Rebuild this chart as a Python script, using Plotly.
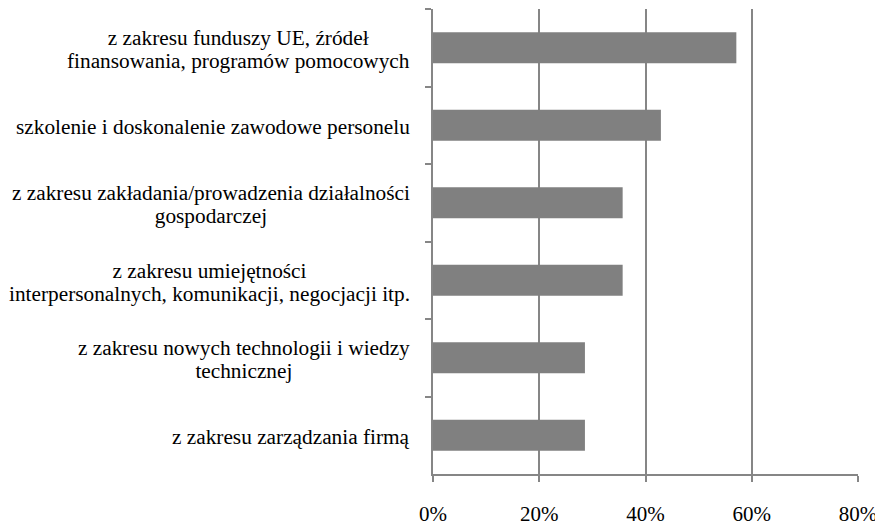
import plotly.graph_objects as go

# Categories (top to bottom) and shares
categories = [
    "z zakresu funduszy UE, źródeł<br>finansowania, programów pomocowych",
    "szkolenie i doskonalenie zawodowe personelu",
    "z zakresu zakładania/prowadzenia działalności<br>gospodarczej",
    "z zakresu umiejętności<br>interpersonalnych, komunikacji, negocjacji itp.",
    "z zakresu nowych technologii i wiedzy<br>technicznej",
    "z zakresu zarządzania firmą",
]
values = [0.571, 0.429, 0.357, 0.357, 0.286, 0.286]
x_ticks = [0, 0.2, 0.4, 0.6, 0.8]
x_tick_labels = ["0%", "20%", "40%", "60%", "80%"]

GREY = "#868686"
FONT = "Liberation Serif, Times New Roman, serif"
LABEL_SIZE = 21.3
LINE_H = 23  # plotly spaces lines at 1.3 x base font size

fig = go.Figure(go.Bar(
    x=values,
    y=categories,
    orientation="h",
    marker=dict(color="#808080", line=dict(width=0)),
    width=0.4,
))

# category labels as annotations: small base size gives tight line spacing,
# inner spans carry the real size; lines centred within a right-aligned block
for cat in categories:
    text = "<br>".join(
        f'<span style="font-size:{LABEL_SIZE}px">{line}</span>'
        for line in cat.split("<br>")
    )
    fig.add_annotation(
        x=0, xref="paper", y=cat, yref="y",
        text=text, showarrow=False,
        xanchor="right", align="center",
        xshift=-21, yshift=-2,
        font=dict(family=FONT, size=LINE_H / 1.3, color="black"),
    )

fig.update_layout(
    template="none",
    width=875, height=519,
    margin=dict(l=425, r=25, t=1, b=53),
    plot_bgcolor="white", paper_bgcolor="white",
    showlegend=False,
    font=dict(family=FONT, color="black"),
    xaxis=dict(
        range=[0, 0.8], automargin=False,
        tickvals=x_ticks, ticktext=x_tick_labels,
        showgrid=True, gridcolor=GREY, gridwidth=1.5,
        showline=True, linecolor=GREY, linewidth=1.5,
        ticks="outside", ticklen=6, tickcolor=GREY, tickwidth=1.5,
        tickfont=dict(family=FONT, size=21, color="black"),
        ticklabelstandoff=14,
        zeroline=False, fixedrange=True,
    ),
    yaxis=dict(
        categoryorder="array", categoryarray=categories,
        autorange="reversed", automargin=False,
        showticklabels=False,
        showline=True, linecolor=GREY, linewidth=1.5,
        ticks="outside", ticklen=6, tickcolor=GREY, tickwidth=1.5,
        tickson="boundaries",
        showgrid=False, zeroline=False, fixedrange=True,
    ),
)

fig.write_html("out.html")
